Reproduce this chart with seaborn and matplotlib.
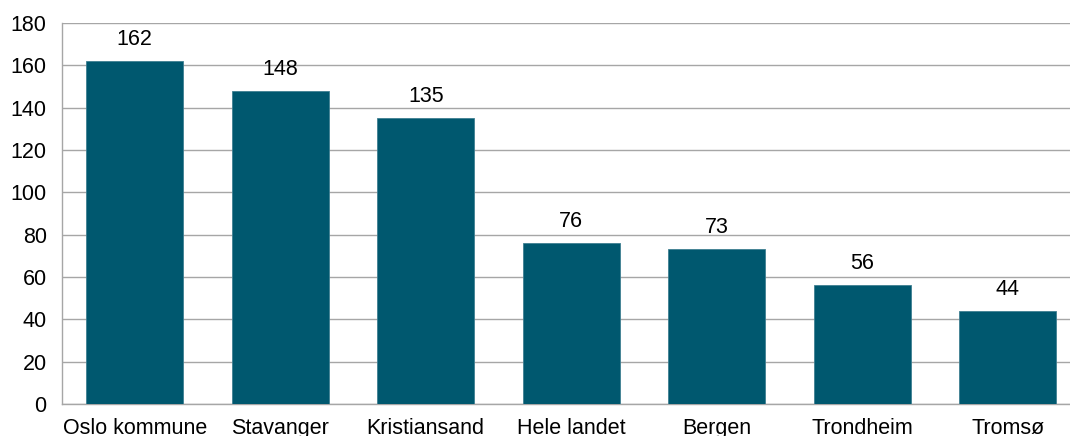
import numpy as np
import pandas as pd
import seaborn as sns
import matplotlib.pyplot as plt

places = ["Oslo kommune", "Stavanger", "Kristiansand", "Hele landet", "Bergen", "Trondheim", "Tromsø"]
values = [162, 148, 135, 76, 73, 56, 44]

df = pd.DataFrame({"place": places, "value": values})

sns.set_style("white")
plt.rcParams["font.family"] = ["Liberation Sans", "DejaVu Sans"]

fig = plt.figure(figsize=(10.7, 4.36), dpi=100)
ax = fig.add_axes([62 / 1070, 32 / 436, 1018.5 / 1070, 381 / 436])

sns.barplot(data=df, x="place", y="value", color="#00586f", saturation=1,
            width=0.67, edgecolor="#3f7f92", linewidth=0.6, ax=ax, zorder=3)

ax.bar_label(ax.containers[0], fmt="%d", padding=8, fontsize=15.5, color="#000000")

ax.set_ylim(0, 180)
ax.set_xlim(-0.5, len(places) - 0.5)
ax.set_yticks(range(0, 181, 20))
ax.yaxis.grid(True, color="#a6a6a6", linewidth=1, zorder=0)
ax.set_axisbelow(True)

ax.set_xticks(np.arange(-0.5, len(places), 1), minor=True)
ax.tick_params(axis="x", which="major", length=0, labelsize=15.5, pad=10, labelcolor="#000000")
ax.tick_params(axis="x", which="minor", length=5, color="#a6a6a6", width=1)
ax.tick_params(axis="y", length=5, color="#a6a6a6", width=1, labelsize=15.5, pad=6, labelcolor="#000000")

for side in ["top", "right"]:
    ax.spines[side].set_visible(False)
for side in ["left", "bottom"]:
    ax.spines[side].set_color("#a6a6a6")
    ax.spines[side].set_linewidth(1)

ax.set_xlabel("")
ax.set_ylabel("")

plt.savefig("out.png", dpi=100)
